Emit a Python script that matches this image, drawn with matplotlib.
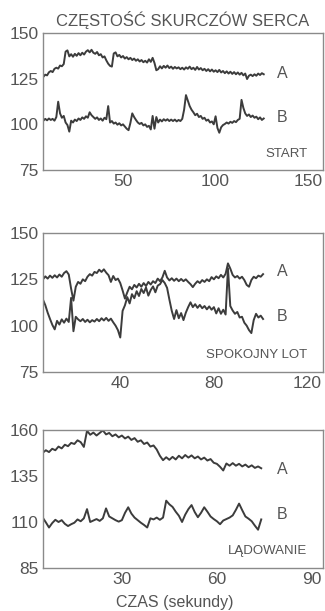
import numpy as np
import matplotlib
matplotlib.use("Agg")
import matplotlib.pyplot as plt
import matplotlib.transforms as mtransforms

plt.rcParams['font.family'] = ['Liberation Sans', 'DejaVu Sans']

# ---------------- data ----------------
title = "CZĘSTOŚĆ SKURCZÓW SERCA"
xlabel = "CZAS (sekundy)"
panel_names = ["START", "SPOKOJNY LOT", "LĄDOWANIE"]
series_names = ["A", "B"]

# Panel 1: START (t = 7 .. 126 s)
start_t = np.arange(7, 127)
start_A = [126.0, 127.2, 126.8, 128.5, 129.2, 128.6, 130.4, 131.0, 130.5, 132.2, 131.8,
           133.0, 139.8, 140.5, 137.2, 138.4, 137.0, 138.6, 137.5, 139.0, 137.8, 139.2,
           138.2, 139.8, 140.6, 139.4, 140.8, 139.2, 138.6, 139.6, 137.8, 138.4, 136.6,
           137.2, 135.0, 133.2, 132.0, 131.6, 138.8, 139.4, 137.2, 138.0, 136.6, 137.4,
           136.0, 136.8, 135.6, 136.4, 135.2, 136.0, 134.8, 135.6, 134.4, 135.2, 134.0,
           134.8, 133.8, 135.6, 134.2, 136.4, 133.6, 129.6, 130.2, 131.8, 130.6, 132.0,
           131.0, 132.2, 130.8, 131.6, 130.4, 131.4, 130.6, 131.2, 130.2, 131.0, 130.0,
           131.2, 130.4, 131.6, 130.2, 131.0, 129.8, 131.4, 130.0, 130.8, 129.6, 130.4,
           129.2, 130.2, 129.0, 130.0, 128.8, 129.6, 128.6, 129.8, 128.4, 129.2, 128.0,
           129.0, 127.8, 128.8, 127.6, 128.6, 127.4, 128.4, 127.2, 128.2, 126.8, 127.8,
           124.8, 126.6, 127.2, 126.4, 127.4, 126.6, 127.8, 127.0, 128.0, 127.4]
start_B = [102.0, 103.0, 102.2, 103.2, 102.4, 103.0, 102.0, 104.0, 112.4, 106.0, 103.6,
           104.6, 101.0, 99.6, 96.0, 102.0, 101.0, 102.6, 101.8, 103.2, 102.4, 103.8,
           103.0, 104.4, 103.6, 106.6, 105.0, 104.0, 103.0, 103.8, 102.4, 103.2, 102.0,
           103.6, 102.8, 110.0, 101.0, 101.8, 100.4, 101.0, 99.8, 100.6, 99.4, 100.0,
           98.8, 97.6, 96.8, 100.8, 106.0, 104.0, 102.4, 101.0, 100.2, 100.8, 99.4,
           100.0, 98.6, 99.2, 97.2, 104.6, 97.6, 104.0, 101.0, 102.6, 101.6, 102.8,
           102.0, 102.8, 101.8, 102.6, 101.8, 102.6, 101.6, 102.4, 101.8, 103.0, 108.0,
           116.0, 113.0, 110.0, 108.0, 106.6, 105.0, 105.8, 104.0, 104.6, 103.0, 103.6,
           102.0, 102.6, 101.0, 101.6, 100.0, 104.4, 98.0, 95.4, 98.4, 99.6, 100.2,
           101.0, 100.4, 101.4, 100.8, 101.8, 101.2, 102.4, 103.0, 113.4, 109.0, 106.0,
           104.6, 105.4, 104.0, 104.8, 103.6, 104.2, 102.8, 103.8, 102.4, 103.2]

# Panel 2: SPOKOJNY LOT (t = 7 .. 101 s)
cruise_t = np.arange(7, 102)
cruise_A = [125.0, 126.6, 125.4, 127.0, 125.8, 127.2, 126.0, 127.6, 126.4, 128.4, 129.4,
            127.6, 120.0, 113.5, 121.0, 123.6, 122.6, 125.0, 124.0, 126.4, 127.8, 127.0,
            129.0, 128.4, 130.2, 129.0, 130.4, 128.6, 127.2, 123.6, 126.8, 124.6, 125.4,
            123.0, 119.0, 114.6, 118.0, 121.0, 119.6, 122.0, 120.6, 122.6, 121.0, 123.0,
            121.4, 123.6, 122.2, 124.0, 123.0, 125.4, 124.0, 126.0, 129.6, 126.0, 124.4,
            125.6, 124.2, 125.4, 124.0, 125.2, 124.0, 125.0, 123.6, 122.4, 120.8, 122.6,
            124.0, 123.0, 124.6, 123.6, 125.0, 124.0, 126.2, 125.0, 126.6, 125.6, 127.4,
            126.0, 128.0, 133.6, 130.8, 127.4, 126.0, 126.8, 125.4, 126.4, 124.6, 122.0,
            121.0, 124.6, 126.4, 125.6, 127.0, 126.4, 127.8]
cruise_B = [114.0, 111.0, 107.0, 103.6, 100.4, 98.0, 102.6, 100.6, 103.4, 101.6, 103.8,
            102.0, 115.0, 97.0, 104.8, 103.4, 102.4, 103.6, 102.0, 103.2, 101.8, 103.0,
            102.2, 103.6, 102.4, 104.0, 102.8, 104.2, 102.6, 103.8, 101.8, 100.0, 97.6,
            93.6, 108.0, 111.0, 115.4, 112.0, 117.0, 114.8, 118.6, 116.0, 119.8, 117.6,
            120.6, 116.2, 119.2, 121.2, 118.0, 121.6, 122.4, 124.6, 123.0, 120.4, 114.0,
            108.0, 103.6, 108.4, 104.0, 106.8, 103.0, 107.0, 110.0, 112.6, 110.0, 111.6,
            109.6, 111.2, 109.4, 110.6, 108.8, 110.4, 108.6, 110.0, 106.6, 109.4, 106.4,
            108.6, 106.0, 131.0, 110.6, 108.2, 106.4, 107.4, 104.4, 104.8, 101.6, 100.0,
            97.6, 96.0, 103.0, 106.4, 104.4, 105.4, 103.6]

# Panel 3: LĄDOWANIE (t = 5 .. 74 s)
landing_t = np.arange(5, 75)
landing_A = [147.6, 149.0, 148.0, 149.8, 149.0, 151.0, 150.0, 152.0, 151.2, 153.0, 152.4,
             154.4, 153.4, 150.8, 159.6, 157.4, 158.6, 157.0, 158.4, 159.8, 157.6, 158.4,
             156.6, 157.6, 156.0, 157.0, 155.4, 156.4, 154.6, 155.6, 153.6, 154.4, 152.4,
             153.2, 151.0, 151.6, 149.4, 146.0, 143.6, 145.2, 143.8, 145.4, 144.0, 146.0,
             144.6, 146.4, 145.0, 146.2, 144.6, 145.6, 144.0, 145.0, 143.4, 144.2, 142.2,
             141.6, 140.0, 138.0, 141.8, 140.6, 142.0, 140.6, 141.6, 140.2, 141.2, 139.8,
             140.8, 139.4, 140.2, 139.2]
landing_B = [112.4, 109.8, 107.0, 109.4, 111.2, 110.0, 111.0, 109.0, 107.8, 108.8, 109.6,
             111.4, 110.4, 112.0, 117.0, 110.0, 110.8, 111.6, 110.6, 112.0, 117.4, 113.0,
             112.0, 111.0, 110.2, 111.0, 115.0, 118.0, 114.6, 112.4, 111.0, 109.6, 108.4,
             107.0, 112.0, 111.4, 112.4, 111.2, 112.4, 121.6, 119.6, 118.2, 115.6, 113.4,
             110.0, 114.0, 117.0, 119.2, 115.4, 112.6, 115.0, 118.0, 115.6, 113.0, 111.6,
             110.4, 108.8, 110.8, 111.6, 112.4, 113.6, 116.6, 120.0, 116.4, 113.0, 111.8,
             110.4, 108.0, 105.8, 111.4]

panel_xticks = [[50, 100, 150], [40, 80, 120], [30, 60, 90]]
panel_yticks = [[75, 100, 125, 150], [75, 100, 125, 150], [85, 110, 135, 160]]
label_levels = [[128, 104], [129, 105], [138.7, 114]]

# ---------------- style / layout ----------------
LINE = "#3c3c3c"
TEXT = "#555555"
SPINE = "#8a8a8a"

fig = plt.figure(figsize=(3.25, 6.11), dpi=100)
W, H = 325, 611

def add_ax(top, bottom, left=43, right=323):
    return fig.add_axes([left / W, 1 - bottom / H, (right - left) / W, (bottom - top) / H])

axes = [add_ax(33, 170), add_ax(233, 372), add_ax(430, 568)]
xlims = [(6.8, 158), (7, 126.6), (5.1, 93.5)]
data = [(start_t, start_A, start_B), (cruise_t, cruise_A, cruise_B),
        (landing_t, landing_A, landing_B)]

for i, ax in enumerate(axes):
    t, a, b = data[i]
    ax.plot(t, a, color=LINE, lw=1.4)
    ax.plot(t, b, color=LINE, lw=1.4)
    ax.set_xlim(*xlims[i])
    yt = panel_yticks[i]
    ax.set_ylim(yt[0], yt[-1])
    ax.set_xticks(panel_xticks[i])
    ax.set_yticks(yt)
    ax.tick_params(length=0, labelsize=12.5, colors=TEXT, pad=3)
    for s in ax.spines.values():
        s.set_color(SPINE)
        s.set_linewidth(1.0)
    trans = mtransforms.blended_transform_factory(ax.transAxes, ax.transData)
    for name, lvl in zip(series_names, label_levels[i]):
        ax.text(0.854, lvl, name, transform=trans, ha="center", va="center",
                fontsize=11.5, color=TEXT)
    ax.text(0.945, 0.12, panel_names[i], transform=ax.transAxes, ha="right",
            va="center", fontsize=9.5, color=TEXT)

fig.text(183 / W, 1 - 20 / H, title, ha="center", va="center", fontsize=12, color=TEXT)
fig.text(175 / W, 1 - 602 / H, xlabel, ha="center", va="center", fontsize=11.5, color=TEXT)

fig.savefig("out.png", dpi=100)
